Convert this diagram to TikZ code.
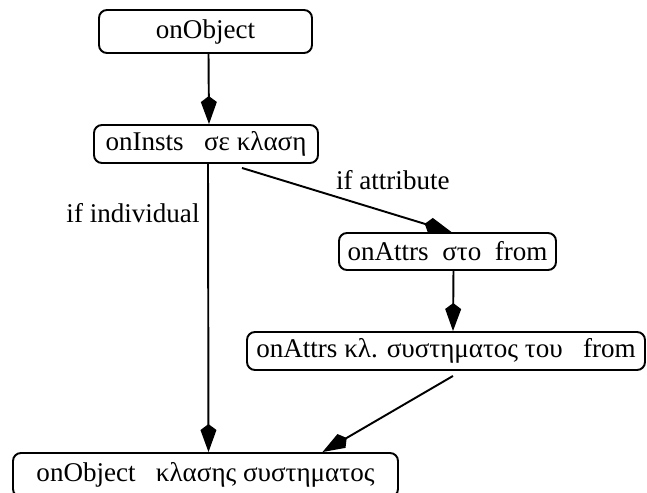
\documentclass[tikz,border=0pt]{standalone}
\usepackage{fontspec}
\setmainfont{Liberation Serif}
\usetikzlibrary{arrows.meta, calc}

\begin{document}
\begin{tikzpicture}[
    x=0.02cm, y=-0.02cm,
    every node/.style  = {font=\fontsize{15.4}{18}\selectfont},
    box/.style         = {draw, line width=1.1pt, rounded corners=0.16cm, inner sep=0pt},
    edge/.style        = {line width=1.1pt, -{Kite[length=0.56cm, width=0.32cm, inset=0.12cm]}}
    ]
      \useasboundingbox (0,0) rectangle (647,493);

      % boxes -------------------------------------------------
      \node[box, minimum width=213*0.02cm, minimum height=43*0.02cm] (obj)     at (205.5,31.5) {onObject};
      \node[box, minimum width=224*0.02cm, minimum height=38*0.02cm] (insts)   at (206,144)    {onInsts\ \ \ σε κλαση};
      \node[box, minimum width=217*0.02cm, minimum height=37*0.02cm] (attr)    at (447.5,251.5) {onAttrs\ \ στο\ \ from};
      \node[box, minimum width=398*0.02cm, minimum height=38*0.02cm] (attrsys) at (446,351)     {onAttrs κλ. συστηματος του\ \ \ from};
      \node[box, minimum width=385*0.02cm, minimum height=44*0.02cm] (sys)     at (205.5,475)   {onObject\ \ \ κλασης συστηματος};

      % edges ----------------------------------------------------
      \draw[edge] ($(obj.south)+(3,0)$) -- ($(insts.north)+(3,0)$);
      \draw[edge] ($(insts.south)+(36,4)$) -- ($(attr.north)+(4,0)$)
            node[pos=0.72, above=10pt] {if attribute};
      \draw[edge] ($(insts.south)+(2,0)$) -- ($(sys.north)+(3,0)$)
            node[pos=0.17, left=1pt] {if individual};
      \draw[edge] ($(attr.south)+(6,0)$) -- ($(attrsys.north)+(7,0)$);
      \draw[edge] ($(attrsys.south)+(7,5)$) -- ($(sys.north)+(117,0)$);
    \end{tikzpicture}
\end{document}
